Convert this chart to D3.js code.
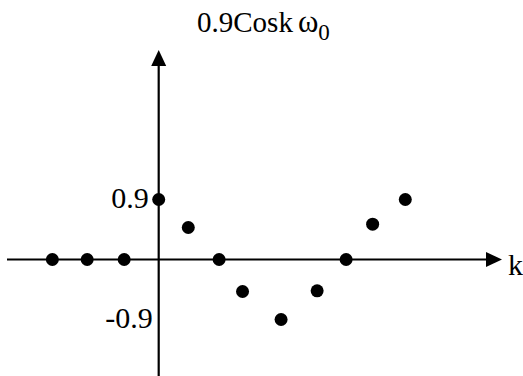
<!DOCTYPE html>
<html><head><meta charset="utf-8">
<script src="https://cdn.jsdelivr.net/npm/d3@7/dist/d3.min.js"></script>
<style>body{margin:0;background:#fff}svg{display:block}</style>
</head><body>
<script>
// Data (k positions as drawn, sample values)
const kPositions = [-3.45, -2.32, -1.12, 0, 0.96, 1.96, 2.72, 3.97, 5.14, 6.08, 6.94, 8];
const sampleValues = [0, 0, 0, 0.9, 0.48, 0, -0.48, -0.9, -0.47, 0, 0.53, 0.9];
const yTickValues = [0.9, -0.9];
const yTickLabels = ["0.9", "-0.9"];
const xAxisLabel = "k";
const titleMain = "0.9Cosk";
const titleSymbol = "ω";
const titleSub = "0";

const W = 523, H = 376;
const svg = d3.select("body").append("svg").attr("width", W).attr("height", H);
const x = d3.scaleLinear().domain([0, 8]).range([158.7, 405.3]);
const y = d3.scaleLinear().domain([-0.9, 0.9]).range([319.5, 199.5]);
const font = "'Liberation Serif','Times New Roman',serif";
const x0 = x(0), y0 = y(0);

// x axis with arrow
svg.append("line").attr("x1", 7).attr("x2", 490).attr("y1", y0).attr("y2", y0)
  .attr("stroke", "#000").attr("stroke-width", 2.2);
svg.append("path").attr("d", `M502,${y0} L486,${y0-7.5} L486,${y0+7.5} Z`).attr("fill", "#000");
// y axis with arrow
svg.append("line").attr("x1", x0).attr("x2", x0).attr("y1", H).attr("y2", 62)
  .attr("stroke", "#000").attr("stroke-width", 2.2);
svg.append("path").attr("d", `M${x0},50 L${x0-7.5},66 L${x0+7.5},66 Z`).attr("fill", "#000");

// tick labels
svg.selectAll("text.tick").data(yTickValues).enter().append("text")
  .attr("class", "tick")
  .attr("x", d => d < 0 ? x0 - 6 : x0 - 10)
  .attr("y", d => y(d) + 8)
  .attr("text-anchor", "end")
  .attr("font-family", font).attr("font-size", 30)
  .text((d, i) => yTickLabels[i]);

// axis label
svg.append("text").attr("x", 508).attr("y", 275)
  .attr("font-family", font).attr("font-size", 30).text(xAxisLabel);

// title
const t = svg.append("text").attr("x", 197).attr("y", 32)
  .attr("font-family", font).attr("font-size", 29);
t.append("tspan").text(titleMain);
t.append("tspan").attr("dx", 5).attr("font-size", 31).text(titleSymbol);
t.append("tspan").attr("dy", 8).attr("font-size", 23).text(titleSub);

// points
svg.selectAll("circle.pt").data(kPositions).enter().append("circle")
  .attr("class", "pt")
  .attr("cx", d => x(d))
  .attr("cy", (d, i) => y(sampleValues[i]))
  .attr("r", 6.5).attr("fill", "#000");
</script>
</body></html>
